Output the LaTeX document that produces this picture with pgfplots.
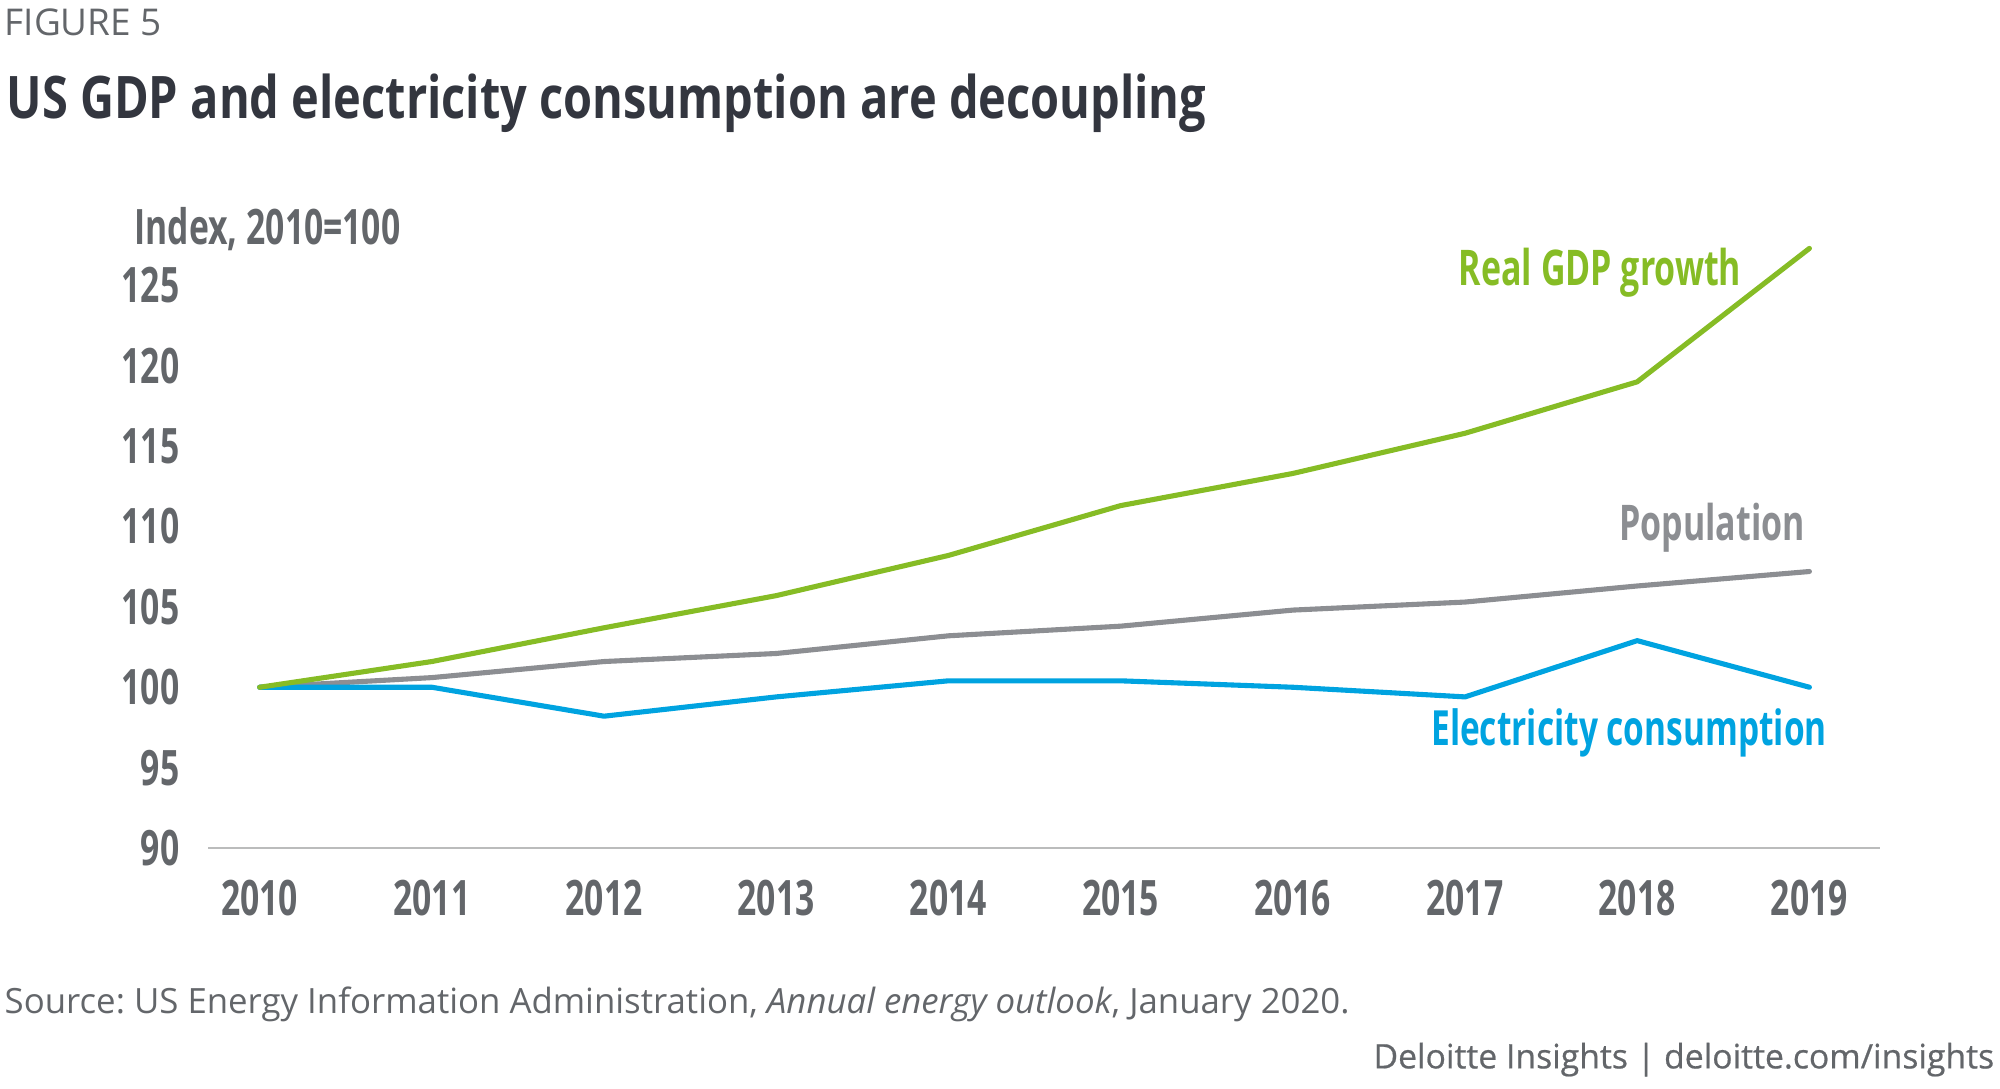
\documentclass[border=0pt]{standalone}
\usepackage{fontspec}
\setmainfont{Open Sans}
\newfontfamily\cond[FakeStretch=0.8]{Open Sans}
\newfontfamily\condx[FakeStretch=0.69]{Open Sans}
\newfontfamily\semib[FakeBold=0.6]{Open Sans}
\usepackage{pgfplots}
\pgfplotsset{compat=1.18}
\frenchspacing

\definecolor{titlec}{HTML}{33363F}
\definecolor{txtgray}{HTML}{63666A}
\definecolor{gdpgreen}{HTML}{86BC25}
\definecolor{elecblue}{HTML}{00A3E0}
\definecolor{popgray}{HTML}{8C8E92}
\definecolor{axgray}{HTML}{BBBCBC}

\pgfplotstableread{
year gdp pop elec
2010 100.0 100.0 100.0
2011 101.6 100.6 100.0
2012 103.7 101.6 98.2
2013 105.7 102.1 99.4
2014 108.2 103.2 100.4
2015 111.3 103.8 100.4
2016 113.3 104.8 100.0
2017 115.8 105.3 99.4
2018 119.0 106.3 102.9
2019 127.3 107.2 100.0
}\datatable

\begin{document}
\begin{tikzpicture}
\useasboundingbox (0,0) rectangle (20cm,10.88cm);
\begin{axis}[
    at={(2.08cm,2.40cm)}, anchor=south west,
    scale only axis,
    width=16.72cm, height=6.43cm,
    xmin=2009.7, xmax=2019.41,
    ymin=90, ymax=130,
    xtick={2010,...,2019},
    ytick={90,95,...,125},
    axis x line*=bottom, axis y line*=left,
    x axis line style={draw=axgray, line width=0.7pt, -},
    y axis line style={draw=none},
    major tick length=0pt,
    tick style={draw=none},
    /pgf/number format/1000 sep={},
    /pgf/number format/assume math mode=true,
    ticklabel style={font=\condx\bfseries\fontsize{13.9}{16}\selectfont, text=txtgray, inner sep=0pt},
    yticklabel style={anchor=east, xshift=-0.28cm},
    xticklabel style={anchor=north, yshift=-0.31cm},
    clip=false,
]
\addplot[popgray, line width=1.45pt, line cap=round, line join=round] table[x=year, y=pop] {\datatable};
\addplot[elecblue, line width=1.45pt, line cap=round, line join=round] table[x=year, y=elec] {\datatable};
\addplot[gdpgreen, line width=1.45pt, line cap=round, line join=round] table[x=year, y=gdp] {\datatable};
\end{axis}
\begin{scope}[x=0.01cm, y=-0.01cm, yshift=10.88cm]
\node[anchor=base west, inner sep=0pt, text=txtgray, font=\fontsize{10.5}{12}\selectfont] at (4,36) {FIGURE 5};
\node[anchor=base west, inner sep=0pt, text=titlec, font=\cond\bfseries\fontsize{16.7}{20}\selectfont] at (6,119) {US GDP and electricity consumption are decoupling};
\node[anchor=base west, inner sep=0pt, text=txtgray, font=\condx\bfseries\fontsize{13.9}{16}\selectfont] at (134,245) {Index, 2010=100};
\node[anchor=base, inner sep=0pt, text=gdpgreen, font=\condx\bfseries\fontsize{14}{16}\selectfont] at (1601,286) {Real GDP growth};
\node[anchor=base, inner sep=0pt, text=popgray, font=\condx\bfseries\fontsize{14}{16}\selectfont] at (1713,541) {Population};
\node[anchor=base, inner sep=0pt, text=elecblue, font=\condx\bfseries\fontsize{13.8}{16}\selectfont] at (1630,746) {Electricity consumption};
\node[anchor=base west, inner sep=0pt, text=txtgray, font=\fontsize{9.9}{12}\selectfont] at (4,1014) {Source: US Energy Information Administration, \textit{Annual energy outlook}, January 2020.};
\node[anchor=base east, inner sep=0pt, text=txtgray, font=\semib\fontsize{9.6}{12}\selectfont] at (1996,1069) {Deloitte Insights | deloitte.com/insights};
\end{scope}
\end{tikzpicture}
\end{document}
